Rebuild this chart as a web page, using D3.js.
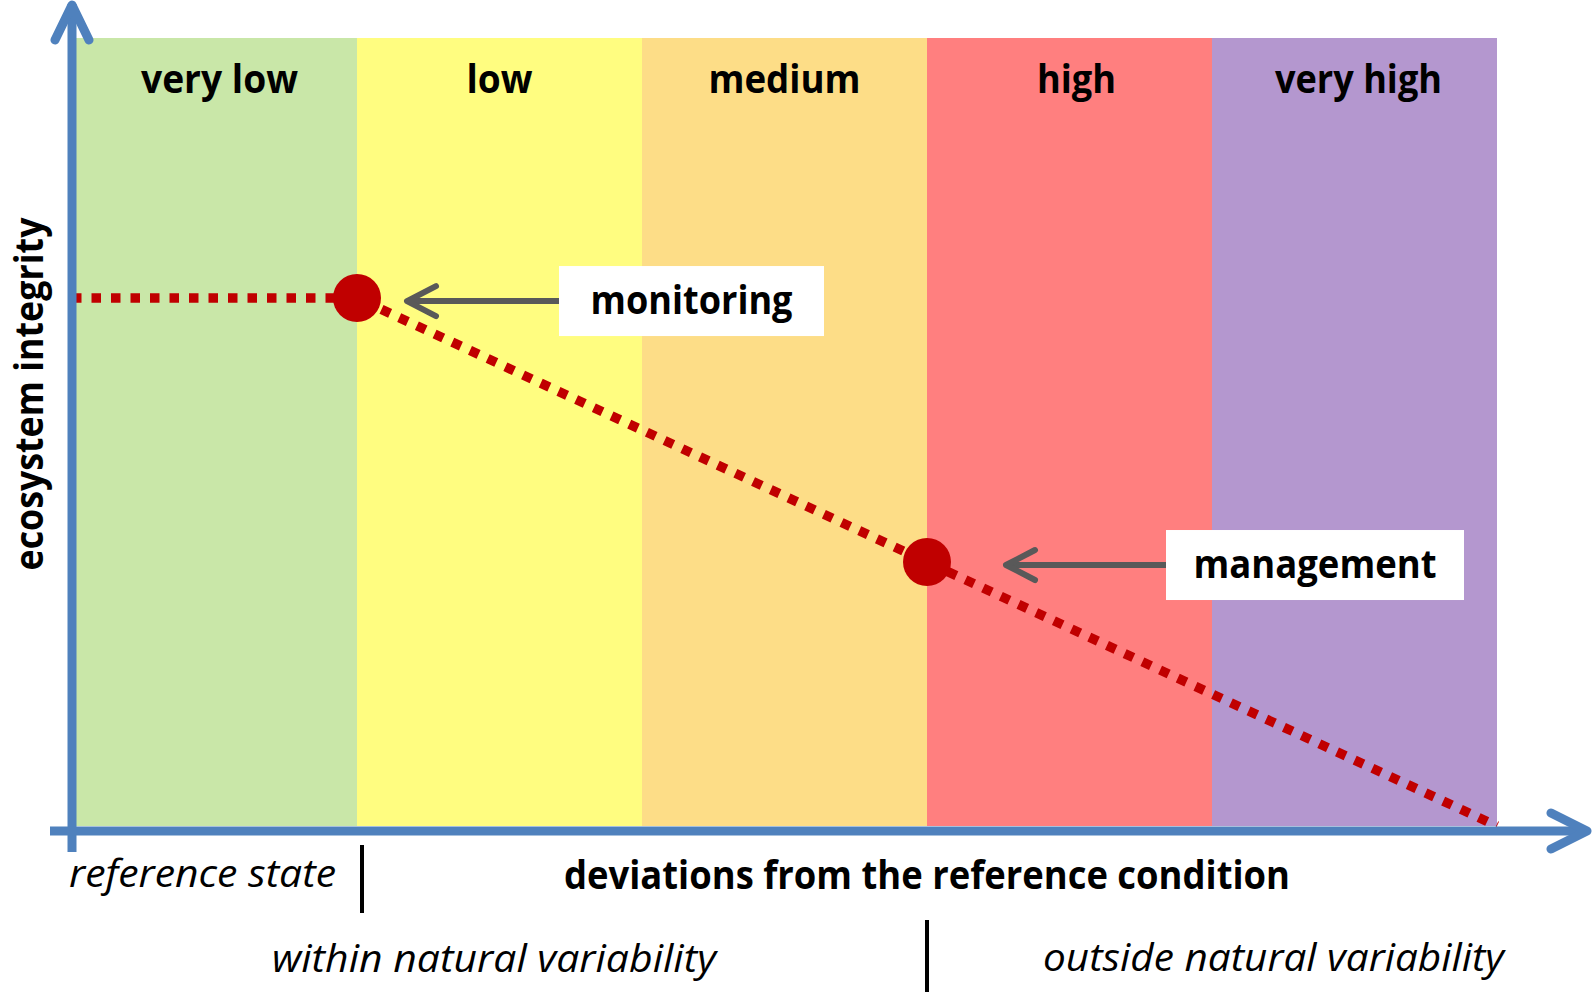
<!DOCTYPE html>
<html lang="en">
<head>
<meta charset="utf-8">
<title>Ecosystem integrity vs deviation</title>
<script src="https://cdnjs.cloudflare.com/ajax/libs/d3/7.8.5/d3.min.js"></script>
<style>
  body { margin: 0; background: #fff; }
  svg { display: block; font-family: "Open Sans", sans-serif; }
  .band-label { font-weight: bold; font-size: 40px; fill: #000; text-anchor: middle; }
  .note { font-weight: bold; font-size: 39px; fill: #000; text-anchor: middle; }
  .axis-title { font-weight: bold; font-size: 39px; fill: #000; }
  .ital { font-style: italic; font-size: 38px; fill: #000; }
  .trend { fill: none; stroke: #c00000; stroke-width: 9.5; stroke-dasharray: 9.5 10; }
</style>
</head>
<body>
<div id="chart"></div>
<script>
// categories of deviation (one band each)
var bands = ["very low", "low", "medium", "high", "very high"];
var bandColors = ["#c9e7a8", "#fffd80", "#fddd87", "#ff7f7f", "#b497cf"];

// the trend: deviation (in band units) vs ecosystem integrity
var deviation = [0, 1, 3, 5];
var integrity = [6.7, 6.7, 3.35, 0];

// the two marked points
var notes = ["monitoring", "management"];
var noteDeviation = [1, 3];
var noteIntegrity = [6.7, 3.35];

var width = 1593, height = 996;

var svg = d3.select("#chart")
  .append("svg")
  .attr("width", width)
  .attr("height", height);

var x = d3.scaleLinear().domain([0, bands.length]).range([72, 1497]);
var y = d3.scaleLinear().domain([0, 10]).range([826, 38]);
var color = d3.scaleOrdinal().domain(bands).range(bandColors);

// measured label widths, to make up for the missing Calibri
var bandTextW = [157, 66, 152, 79, 167];
var bandShift = [5, 0, 0, 7, 4];

// background bands
svg.append("g").selectAll("rect")
  .data(bands)
  .enter().append("rect")
  .attr("x", function (d, i) { return x(i); })
  .attr("y", y(10))
  .attr("width", function (d, i) { return x(i + 1) - x(i); })
  .attr("height", y(0) - y(10))
  .attr("fill", function (d) { return color(d); });

svg.append("g").selectAll("text")
  .data(bands)
  .enter().append("text")
  .attr("class", "band-label")
  .attr("x", function (d, i) { return (x(i) + x(i + 1)) / 2 + bandShift[i]; })
  .attr("y", 93)
  .attr("textLength", function (d, i) { return bandTextW[i]; })
  .attr("lengthAdjust", "spacingAndGlyphs")
  .text(function (d) { return d; });

// dotted trend line
var pts = deviation.map(function (d, i) { return [d, integrity[i]]; });
var line = d3.line()
  .x(function (d) { return x(d[0]); })
  .y(function (d) { return y(d[1]); });

svg.append("path")
  .datum(pts)
  .attr("class", "trend")
  .attr("d", line);

// axes, drawn as plain arrows
var axisColor = "#4f81bd";
var ax = svg.append("g")
  .attr("stroke", axisColor)
  .attr("stroke-width", 9)
  .attr("fill", "none")
  .attr("stroke-linecap", "round")
  .attr("stroke-linejoin", "round");

var y0 = y(0) + 5;
ax.append("line").attr("x1", x(0)).attr("x2", x(0)).attr("y1", 852).attr("y2", 4)
  .attr("stroke-linecap", "butt");
ax.append("polyline")
  .attr("points", [[x(0) - 17, 40], [x(0), 5], [x(0) + 17, 40]].join(" "));
ax.append("line").attr("x1", 50).attr("x2", 1586).attr("y1", y0).attr("y2", y0)
  .attr("stroke-linecap", "butt");
ax.append("polyline")
  .attr("points", [[1551, y0 - 18], [1587, y0], [1551, y0 + 18]].join(" "));

// markers
svg.append("g").selectAll("circle")
  .data(notes)
  .enter().append("circle")
  .attr("cx", function (d, i) { return x(noteDeviation[i]); })
  .attr("cy", function (d, i) { return y(noteIntegrity[i]); })
  .attr("r", 24)
  .attr("fill", "#c00000");

// annotation boxes with grey arrows
var tipGap = [50, 79];
var boxGap = [202, 239];
var boxW = [265, 298];
var noteTextW = [202, 243];
var boxH = 70;

notes.forEach(function (n, i) {
  var cx = x(noteDeviation[i]);
  var cy = y(noteIntegrity[i]) + 3;
  var bx = cx + boxGap[i];
  var tip = cx + tipGap[i];
  var g = svg.append("g");
  g.append("rect")
    .attr("x", bx).attr("y", cy - boxH / 2)
    .attr("width", boxW[i]).attr("height", boxH)
    .attr("fill", "#fff");
  g.append("text")
    .attr("class", "note")
    .attr("x", bx + boxW[i] / 2)
    .attr("y", cy + 13)
    .attr("textLength", noteTextW[i])
    .attr("lengthAdjust", "spacingAndGlyphs")
    .text(n);
  var a = g.append("g")
    .attr("stroke", "#595959").attr("stroke-width", 6).attr("fill", "none")
    .attr("stroke-linecap", "round").attr("stroke-linejoin", "round");
  a.append("line").attr("x1", bx).attr("x2", tip + 2).attr("y1", cy).attr("y2", cy)
    .attr("stroke-linecap", "butt");
  a.append("polyline")
    .attr("points", [[tip + 29, cy - 15], [tip, cy], [tip + 29, cy + 15]].join(" "));
});

// axis titles
svg.append("text")
  .attr("class", "axis-title")
  .attr("transform", "translate(43,394) rotate(-90)")
  .attr("text-anchor", "middle")
  .attr("textLength", 353)
  .attr("lengthAdjust", "spacingAndGlyphs")
  .text("ecosystem integrity");

svg.append("text")
  .attr("class", "axis-title")
  .attr("x", 564).attr("y", 889)
  .attr("textLength", 726)
  .attr("lengthAdjust", "spacingAndGlyphs")
  .text("deviations from the reference condition");

svg.append("text")
  .attr("class", "ital")
  .attr("x", 69).attr("y", 887)
  .attr("textLength", 267)
  .attr("lengthAdjust", "spacingAndGlyphs")
  .text("reference state");

svg.append("text")
  .attr("class", "ital")
  .attr("x", 272).attr("y", 972)
  .attr("textLength", 444)
  .attr("lengthAdjust", "spacingAndGlyphs")
  .text("within natural variability");

svg.append("text")
  .attr("class", "ital")
  .attr("x", 1043).attr("y", 971)
  .attr("textLength", 461)
  .attr("lengthAdjust", "spacingAndGlyphs")
  .text("outside natural variability");

// separators
svg.append("line")
  .attr("x1", x(1) + 5).attr("x2", x(1) + 5).attr("y1", 845).attr("y2", 913)
  .attr("stroke", "#000").attr("stroke-width", 4);
svg.append("line")
  .attr("x1", x(3)).attr("x2", x(3)).attr("y1", 920).attr("y2", 992)
  .attr("stroke", "#000").attr("stroke-width", 4);
</script>
</body>
</html>
